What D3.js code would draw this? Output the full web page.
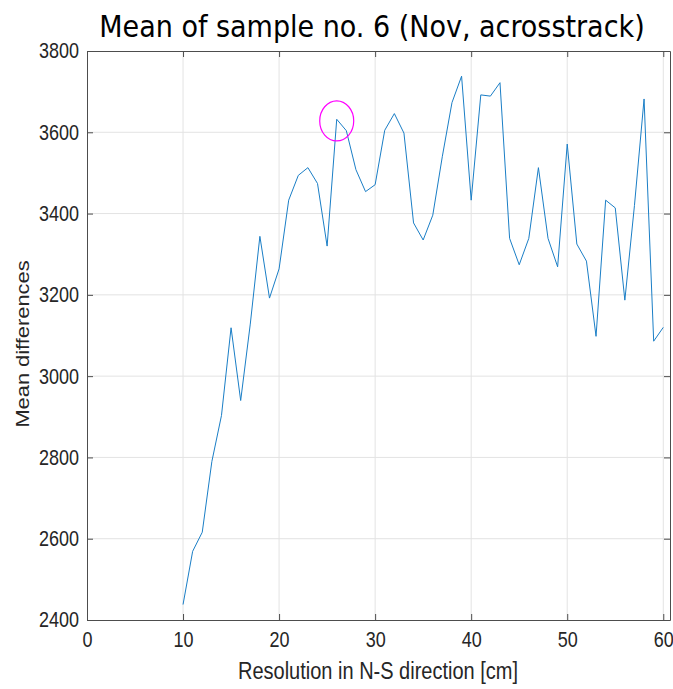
<!DOCTYPE html>
<html>
<head>
<meta charset="utf-8">
<script src="https://cdn.jsdelivr.net/npm/d3@7"></script>
<style>
body { margin: 0; background: #fff; }
.axis text { font-family: "Liberation Sans", Arial, sans-serif; font-size: 18px; fill: #262626; }
.axis path, .axis line { stroke: #4d4d4d; }
</style>
</head>
<body>
<script>
var resolution = [10,11,12,13,14,15,16,17,18,19,20,21,22,23,24,25,26,27,28,29,30,
  31,32,33,34,35,36,37,38,39,40,41,42,43,44,45,46,47,48,49,50,51,52,53,54,55,56,57,58,59,60];
var meanDiff = [2438,2569,2616,2790,2903,3119,2940,3128,3344,3192,3264,3433,3494,3513,3474,3320,3632,3604,3508,3454,3471,
  3605,3646,3598,3377,3335,3396,3541,3673,3738,3433,3692,3689,3722,3339,3274,3339,3513,3339,3269,3571,
  3325,3283,3098,3433,3414,3187,3420,3682,3086,3120];
var xTicks = [0,10,20,30,40,50,60];
var yTicks = [2400,2600,2800,3000,3200,3400,3600,3800];
var marked = {x: 26, y: 3628};

var w = 673, h = 689;
var padL = 87, padR = 670, padT = 51, padB = 620;
var stretch = 1.2; // the picture is stretched vertically

var svg = d3.select("body").append("svg")
  .attr("width", w)
  .attr("height", h);

var xScale = d3.scaleLinear().domain([0, 60.7]).range([padL, padR]);
var yScale = d3.scaleLinear().domain([2400, 3800]).range([padB, padT]);

// grid
svg.append("g").selectAll("line").data(xTicks.slice(1)).enter().append("line")
  .attr("x1", function(d){return xScale(d)}).attr("x2", function(d){return xScale(d)})
  .attr("y1", padT).attr("y2", padB)
  .attr("stroke", "#e3e3e3");
svg.append("g").selectAll("line").data(yTicks.slice(1, -1)).enter().append("line")
  .attr("y1", function(d){return yScale(d)}).attr("y2", function(d){return yScale(d)})
  .attr("x1", padL).attr("x2", padR)
  .attr("stroke", "#e3e3e3");

// axes with inward ticks (box style)
var xAxis = d3.axisBottom(xScale).tickValues(xTicks).tickFormat(d3.format("d"))
  .tickSizeInner(-6).tickSizeOuter(0).tickPadding(10);
var yAxis = d3.axisLeft(yScale).tickValues(yTicks).tickFormat(d3.format("d"))
  .tickSizeInner(-6).tickSizeOuter(0).tickPadding(8);

var gx = svg.append("g").attr("class", "axis")
  .attr("transform", "translate(0," + padB + ")")
  .call(xAxis);
gx.selectAll("text").attr("transform", "scale(1," + stretch + ")");

var gy = svg.append("g").attr("class", "axis")
  .attr("transform", "translate(" + padL + ",0)")
  .call(yAxis);
gy.selectAll("text").attr("transform", "scale(1," + stretch + ")");

svg.append("g").attr("class", "axis")
  .attr("transform", "translate(0," + padT + ")")
  .call(d3.axisTop(xScale).tickValues(xTicks).tickSizeInner(-6).tickSizeOuter(0).tickFormat(""));
svg.append("g").attr("class", "axis")
  .attr("transform", "translate(" + padR + ",0)")
  .call(d3.axisRight(yScale).tickValues(yTicks).tickSizeInner(-6).tickSizeOuter(0).tickFormat(""));

// line
var line = d3.line()
  .x(function(d, i){return xScale(resolution[i])})
  .y(function(d){return yScale(d)});

svg.append("path")
  .datum(meanDiff)
  .attr("d", line)
  .attr("fill", "none")
  .attr("stroke", "#1a7ec6")
  .attr("stroke-width", 1);

// marked point
svg.append("ellipse")
  .attr("cx", xScale(marked.x))
  .attr("cy", yScale(marked.y))
  .attr("rx", 17)
  .attr("ry", 20)
  .attr("fill", "none")
  .attr("stroke", "#ff00ff")
  .attr("stroke-width", 1.2);

// labels
svg.append("text")
  .attr("x", 372).attr("y", 37)
  .attr("text-anchor", "middle")
  .style("font-family", "'DejaVu Sans Condensed', 'DejaVu Sans', sans-serif")
  .style("font-stretch", "condensed")
  .style("font-size", "30px")
  .attr("fill", "#000")
  .text("Mean of sample no. 6 (Nov, acrosstrack)");

svg.append("text")
  .attr("transform", "translate(378,679) scale(1,1.15)")
  .attr("text-anchor", "middle")
  .style("font-family", "'Liberation Sans', Arial, sans-serif")
  .style("font-size", "20px")
  .attr("fill", "#262626")
  .text("Resolution in N-S direction [cm]");

svg.append("text")
  .attr("transform", "translate(29,344) rotate(-90) scale(1.15,1)")
  .attr("text-anchor", "middle")
  .style("font-family", "'Liberation Sans', Arial, sans-serif")
  .style("font-size", "19px")
  .attr("fill", "#262626")
  .text("Mean differences");
</script>
</body>
</html>
